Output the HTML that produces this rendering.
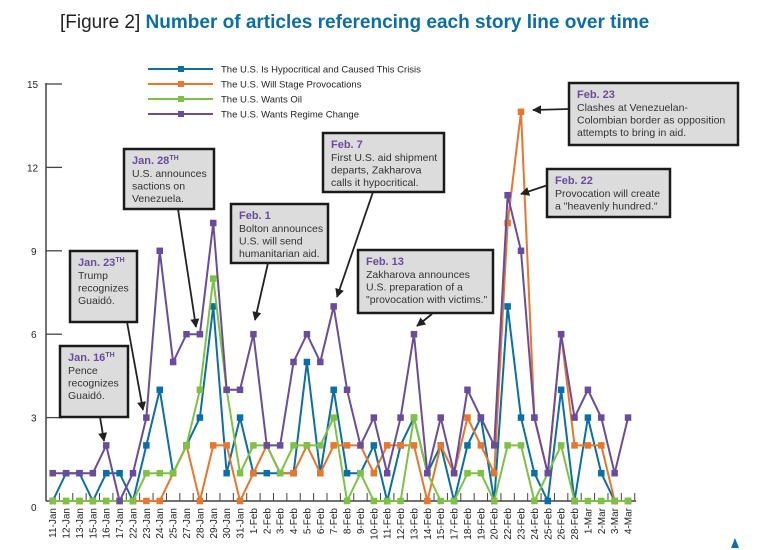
<!DOCTYPE html>
<html><head><meta charset="utf-8"><style>
html,body{margin:0;padding:0;background:#fff;}
svg{display:block;font-family:"Liberation Sans",sans-serif;}
</style></head><body>
<svg id="chart" width="768" height="550" viewBox="0 0 768 550">
<text x="60" y="28" font-size="19" fill="#222">[Figure 2] <tspan font-weight="bold" fill="#0b6ea6">Number of articles referencing each story line over time</tspan></text>
<g id="axes"></g><g id="series"></g><g id="legend"></g><g id="notes"></g>
<polygon points="731,548 735,538 739,548" fill="#0b6ea6"/>
</svg>
<script>
const categories=["11-Jan","12-Jan","13-Jan","15-Jan","16-Jan","17-Jan","22-Jan","23-Jan","24-Jan","25-Jan","27-Jan","28-Jan","29-Jan","30-Jan","31-Jan","1-Feb","2-Feb","3-Feb","4-Feb","5-Feb","6-Feb","7-Feb","8-Feb","9-Feb","10-Feb","11-Feb","12-Feb","13-Feb","14-Feb","15-Feb","17-Feb","18-Feb","19-Feb","20-Feb","22-Feb","23-Feb","24-Feb","25-Feb","26-Feb","28-Feb","1-Mar","2-Mar","3-Mar","4-Mar"];
const hypocritical=[0,1,1,0,1,1,0,2,4,1,2,3,7,1,3,1,1,1,1,5,1,4,1,1,2,0,2,3,1,2,0,2,3,0,7,3,1,0,4,0,3,1,0,0];
const provocations=[0,0,0,0,0,0,0,0,0,1,2,0,2,2,0,1,2,1,1,2,1,2,2,2,1,2,2,2,0,2,1,3,2,1,10,14,3,1,6,2,2,2,0,0];
const oil=[0,0,0,0,0,0,0,1,1,1,2,4,8,4,1,2,2,1,2,2,2,3,0,1,0,0,0,3,1,0,0,1,1,0,2,2,0,1,2,0,0,0,0,0];
const regime=[1,1,1,1,2,0,1,3,9,5,6,6,10,4,4,6,2,2,5,6,5,7,4,2,3,1,3,6,1,3,1,4,3,2,11,9,3,1,6,3,4,3,1,3];
const yTicks=[0,3,6,9,12,15];
const seriesNames=["The U.S. Is Hypocritical and Caused This Crisis","The U.S. Will Stage Provocations","The U.S. Wants Oil","The U.S. Wants Regime Change"];
const NS="http://www.w3.org/2000/svg";
const X0=52.7,DX=13.38,Y0=501,DY=27.8;
const xs=i=>X0+i*DX, ys=v=>Y0-v*DY;
function mk(tag,at,parent){const e=document.createElementNS(NS,tag);for(const k in at)e.setAttribute(k,at[k]);parent.appendChild(e);return e;}
const axes=document.getElementById('axes');
let e=mk('line',{x1:46,y1:ys(15)-1,x2:46,y2:Y0,stroke:'#444','stroke-width':1.5},axes);


e=mk('line',{x1:46,y1:Y0,x2:xs(43)+8,y2:Y0,stroke:'#444','stroke-width':1.5},axes);


yTicks.forEach(t=>{
  if(t>0){const l=mk('line',{x1:46,y1:ys(t),x2:62,y2:ys(t),stroke:'#444','stroke-width':1.3},axes);
  
  }
  const tx=mk('text',{x:t>=10?27:31,y:ys(t)+(t==0?10:4),'font-size':10,fill:'#222'},axes);tx.textContent=t;
  
  
});
categories.forEach((c,i)=>{
  const l=mk('line',{x1:xs(i)+DX/2,y1:Y0,x2:xs(i)+DX/2,y2:Y0-8,stroke:'#444','stroke-width':1},axes);
  
  
  const t=mk('text',{x:0,y:0,'font-size':10,fill:'#222','text-anchor':'end',transform:`translate(${xs(i)+3.5},508) rotate(-90)`},axes);
  t.textContent=c;
  
  
});
const colors=['#0b6ea6','#e8762c','#7dc242','#6a4c9c'];
const datasets=[hypocritical,provocations,oil,regime];
const names=['hypocritical','provocations','oil','regime-change'];
const sg=document.getElementById('series');
datasets.forEach((d,k)=>{
  const g=mk('g',{},sg);
  
  
  const p=mk('polyline',{points:d.map((v,i)=>xs(i)+','+ys(v)).join(' '),fill:'none',stroke:colors[k],'stroke-width':2,'stroke-linejoin':'miter'},g);
  
  
  d.forEach((v,i)=>{const r=mk('rect',{x:xs(i)-3.25,y:ys(v)-3.25,width:6.5,height:6.5,fill:colors[k]},g);
    
    });
});
const lg=document.getElementById('legend');
seriesNames.forEach((n,k)=>{
  const y=69+k*15;
  const g=mk('g',{},lg);
  
  
  mk('line',{x1:148,y1:y,x2:213,y2:y,stroke:colors[k],'stroke-width':2},g);
  mk('rect',{x:178,y:y-3,width:6,height:6,fill:colors[k]},g);
  const t=mk('text',{x:221,y:y+3.5,'font-size':9.5,fill:'#222'},g);t.textContent=n;
});
const notes=[
 {x:60,y:346,w:68,h:71,head:'Jan. 16',sup:'TH',lines:['Pence','recognizes','Guaidó.'],ax:[100,417,104,441]},
 {x:70,y:251,w:67,h:71,head:'Jan. 23',sup:'TH',lines:['Trump','recognizes','Guaidó.'],ax:[127,322,143,410]},
 {x:124,y:149,w:90,h:60,head:'Jan. 28',sup:'TH',lines:['U.S. announces','sactions on','Venezuela.'],ax:[178,209,196,327]},
 {x:231,y:204,w:97,h:59,head:'Feb. 1',sup:'',lines:['Bolton announces','U.S. will send','humanitarian aid.'],ax:[268,263,255,320]},
 {x:323,y:133,w:121,h:59,head:'Feb. 7',sup:'',lines:['First U.S. aid shipment','departs, Zakharova','calls it hypocritical.'],ax:[373,192,337,297]},
 {x:358,y:250,w:135,h:63,head:'Feb. 13',sup:'',lines:['Zakharova announces','U.S. preparation of a','"provocation with victims."'],ax:[432,314,417,326]},
 {x:547,y:169,w:123,h:48,head:'Feb. 22',sup:'',lines:['Provocation will create','a "heavenly hundred."'],ax:[548,185,521,194]},
 {x:569,y:83,w:169,h:62,head:'Feb. 23',sup:'',lines:['Clashes at Venezuelan-','Colombian border as opposition','attempts to bring in aid.'],ax:[569,109,533,110]}
];
const ng=document.getElementById('notes');
mk('defs',{},ng).innerHTML='<marker id="ah" viewBox="0 0 10 10" refX="9" refY="5" markerWidth="5" markerHeight="5" orient="auto"><path d="M0,0 L10,5 L0,10 z" fill="#222"/></marker>';
notes.forEach(n=>{
  const g=mk('g',{},ng);
  
  
  mk('rect',{x:n.x,y:n.y,width:n.w,height:n.h,fill:'#dcdcdc',stroke:'#1a1a1a','stroke-width':2.5},g);
  const tx=n.x+8;
  const h=mk('text',{x:tx,y:n.y+15,'font-size':11,'font-weight':'bold',fill:'#6a4c9c'},g);
  h.innerHTML=n.head+(n.sup?'<tspan font-size="7" dy="-4">'+n.sup+'</tspan>':'');
  n.lines.forEach((l,j)=>{const t=mk('text',{x:tx,y:n.y+28+j*12.5,'font-size':10.5,fill:'#333'},g);t.textContent=l;});
  mk('line',{x1:n.ax[0],y1:n.ax[1],x2:n.ax[2],y2:n.ax[3],stroke:'#222','stroke-width':1.8,'marker-end':'url(#ah)'},g);
});
</script>
</body></html>
